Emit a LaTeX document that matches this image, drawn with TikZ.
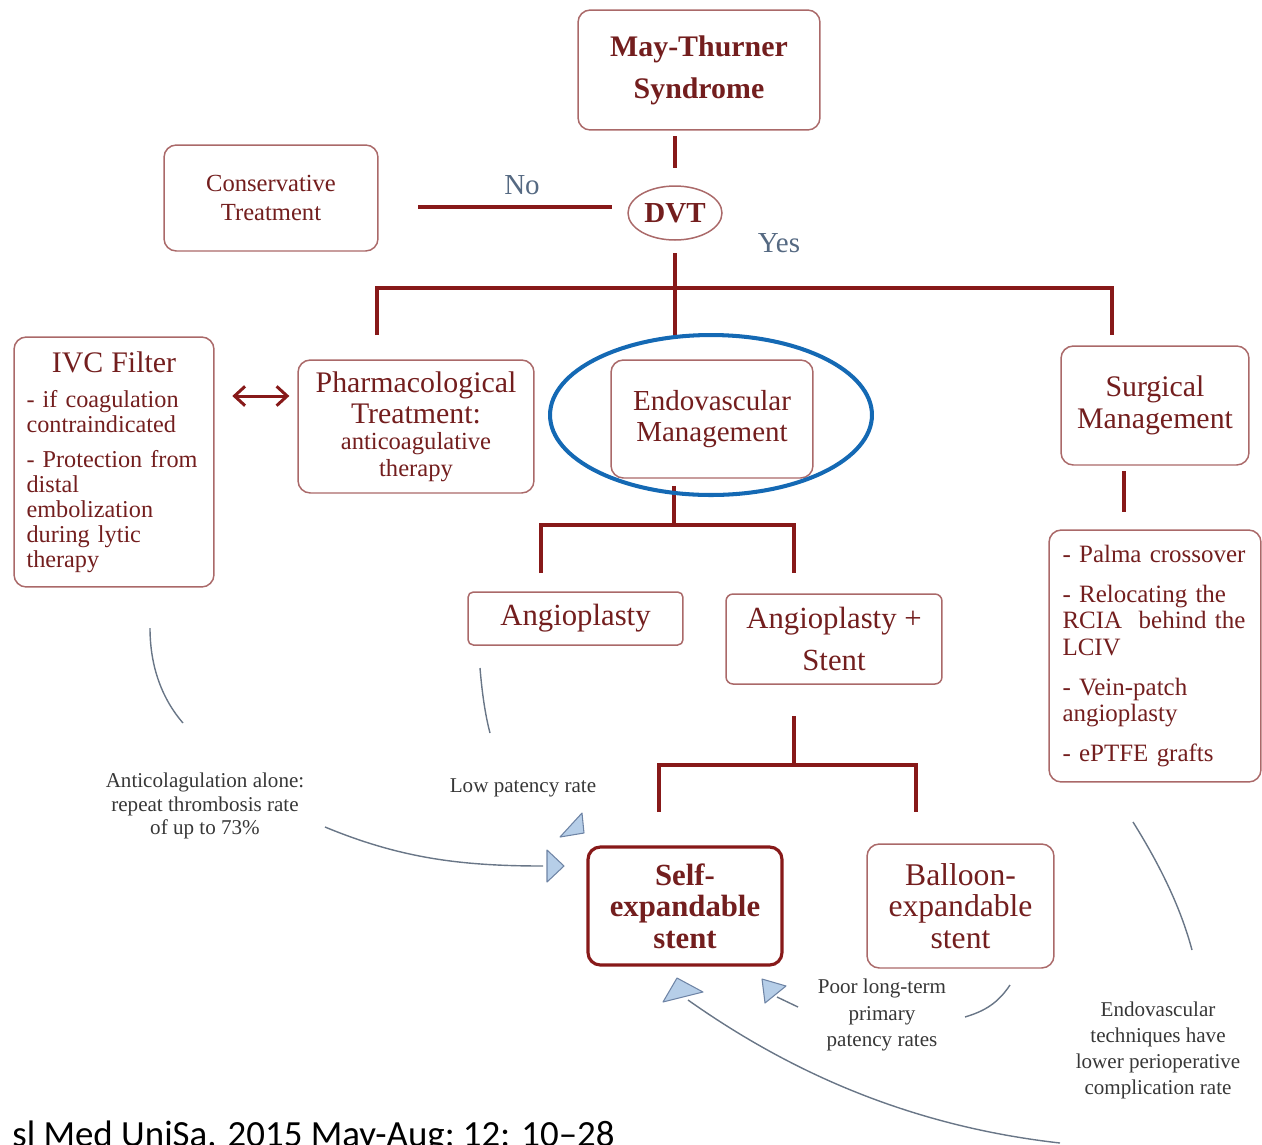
\documentclass[tikz,border=0pt]{standalone}
\usepackage{fontspec}
\setmainfont{Liberation Serif}
\newfontfamily\citefont{Carlito}
\usetikzlibrary{shapes.geometric,arrows.meta}

\definecolor{boxline}{RGB}{170,105,105}
\definecolor{linkred}{RGB}{135,25,25}
\definecolor{boxtext}{RGB}{115,30,30}
\definecolor{choice}{RGB}{85,105,130}
\definecolor{notetext}{RGB}{55,55,55}
\definecolor{noteline}{RGB}{105,118,135}
\definecolor{tipfill}{RGB}{182,206,232}
\definecolor{tipline}{RGB}{110,132,165}
\definecolor{ringblue}{RGB}{20,105,180}

\newcommand{\setfs}[2]{\fontsize{#1}{#2}\selectfont}

\begin{document}
\begin{tikzpicture}[x=0.02cm, y=-0.02cm,
  box/.style={draw=boxline, line width=0.85pt, rounded corners=7pt, text=boxtext, align=center, inner sep=2pt},
  link/.style={draw=linkred, line width=2.2pt},
  note/.style={text=notetext, align=center, font=\setfs{12}{13.6}},
  remark/.style={draw=noteline, line width=0.8pt},
  headtri/.style={fill=tipfill, draw=tipline, line width=0.6pt, line join=round}]
  \useasboundingbox (0,0) rectangle (1262,1144);

  % --- Syndrom og DVT ---
  \node[box, minimum width=4.84cm, minimum height=2.4cm, font=\bfseries\setfs{17}{24}] (mts) at (699,70) {May-Thurner\\Syndrome};
  \node[draw=boxline, line width=0.85pt, ellipse, minimum width=1.88cm, minimum height=1.08cm, inner sep=0pt, text=boxtext, font=\bfseries\setfs{16.5}{18}] (dvt) at (675,213) {DVT};
  \node[box, minimum width=4.28cm, minimum height=2.12cm, font=\setfs{14}{16.5}] (cons) at (271,198) {Conservative\\Treatment};
  \draw[link, shorten <=3pt, shorten >=10pt] (mts.south -| dvt.north) -- (dvt.north);
  \coordinate (nolevel) at (0,207);
  \draw[link, shorten <=22.5pt, shorten >=8.5pt] (cons.east |- nolevel) -- (dvt.west |- nolevel);
  \node[text=choice, font=\setfs{16.5}{18}] (no) at (522,185) {No};
  \node[text=choice, font=\setfs{16.5}{18}] (yes) at (779,243) {Yes};

  % --- behandlingsniveau ---
  \coordinate (hubA) at (674,288);
  \coordinate (dropL) at (377,335);
  \coordinate (dropR) at (1112,335);
  \draw[link, shorten <=7pt] (dvt.south) -- (dvt.south |- dropL);
  \draw[link] (dropL) |- (hubA) -| (dropR);

  \node[box, minimum width=4cm, minimum height=5cm, text width=3.5cm, align=left, font=\setfs{13.8}{14.1}] (ivc) at (114,462)
    {{\centering\setfs{17}{20}IVC Filter\par}\vspace{6pt}
     - if coagulation\\contraindicated\par\vspace{6pt}
     - Protection from\\distal\\embolization\\during lytic\\therapy};
  \node[box, minimum width=4.72cm, minimum height=2.66cm, text width=4.5cm] (pharm) at (416,426.5)
    {{\setfs{17}{17.6}Pharmacological\\Treatment:\par}{\setfs{14}{15}anticoagulative\\therapy\par}};
  \coordinate (arrowlevel) at (0,396);
  \draw[linkred, line width=1.7pt, {Straight Barb[length=6pt,width=11pt]}-{Straight Barb[length=6pt,width=11pt]}, shorten <=10pt, shorten >=4.5pt] (ivc.east |- arrowlevel) -- (pharm.west |- arrowlevel);

  \node[box, minimum width=4.04cm, minimum height=2.36cm, font=\setfs{16.5}{18}] (endo) at (712,419) {Endovascular\\Management};
  \node[box, minimum width=3.76cm, minimum height=2.38cm, font=\setfs{17}{18}] (surg) at (1155,405.5) {Surgical\\Management};
  \node[box, minimum width=4.24cm, minimum height=5.04cm, text width=3.7cm, align=left, font=\setfs{14.2}{15.3}] (slist) at (1155,656)
    {- Palma crossover\par\vspace{7pt}
     - Relocating the\\RCIA~ behind the\\LCIV\par\vspace{7pt}
     - Vein-patch\\angioplasty\par\vspace{7pt}
     - ePTFE grafts};
  \coordinate (surgx) at (1124,490);
  \draw[link, shorten <=3pt, shorten >=10pt] (surg.south -| surgx) -- (slist.north -| surgx);

  % --- endovaskulaer gren ---
  \coordinate (hubB) at (674,525);
  \coordinate (dropA) at (541,573);
  \coordinate (dropB) at (794,573);
  \draw[link, shorten <=4pt] (endo.south -| hubB) -- (hubB);
  \draw[link] (dropA) |- (hubB) -| (dropB);
  \draw[ringblue, line width=2.3pt] (711,415) ellipse [x radius=3.22cm, y radius=1.6cm];

  \node[box, rounded corners=3pt, minimum width=4.3cm, minimum height=1.06cm, font=\setfs{17.5}{19}] (angio) at (575.5,618.5) {Angioplasty};
  \node[box, rounded corners=4pt, minimum width=4.32cm, minimum height=1.8cm, font=\setfs{17.5}{24}] (angst) at (834,639) {Angioplasty +\\Stent};

  \coordinate (hubC) at (794,765);
  \coordinate (dropC) at (659,812);
  \coordinate (dropD) at (916,812);
  \draw[link, shorten <=18pt] (angst.south -| hubC) -- (hubC);
  \draw[link] (dropC) |- (hubC) -| (dropD);

  \node[box, draw=linkred, line width=1.8pt, minimum width=3.88cm, minimum height=2.36cm, font=\bfseries\setfs{17.5}{17.9}] (self) at (685,906) {Self-\\expandable\\stent};
  \node[box, minimum width=3.74cm, minimum height=2.48cm, font=\setfs{18}{17.9}] (ball) at (960.5,906) {Balloon-\\expandable\\stent};

  % --- kommentarer ---
  \node[note] (noteA) at (205,806) {Anticolagulation alone:\\repeat thrombosis rate\\of up to 73\%};
  \node[note] (noteB) at (523,788) {Low patency rate};
  \node[note, font=\setfs{12}{15.3}] (noteC) at (882,1015) {Poor long-term\\primary\\patency rates};
  \node[note, font=\setfs{12}{14.8}] (noteD) at (1158,1050) {Endovascular\\techniques have\\lower perioperative\\complication rate};

  \draw[remark] (150,628) .. controls (150,668) and (163,700) .. (183,723);
  \draw[remark] (480,668) .. controls (482,692) and (485,714) .. (490,733);
  \draw[remark] (325,827) .. controls (400,858) and (460,866) .. (543,866);
  \draw[remark] (1133,822) .. controls (1158,862) and (1180,905) .. (1192,950);
  \draw[remark] (1010,985) .. controls (998,1003) and (985,1011) .. (965,1017);
  \draw[remark] (798,1007) -- (777,997);
  \draw[remark] (1060,1143) .. controls (900,1125) and (780,1065) .. (688,1000);

  \filldraw[headtri] (582,813) -- (560,837) -- (584,833) -- cycle;
  \filldraw[headtri] (547,850) -- (547,882) -- (564,866) -- cycle;
  \filldraw[headtri] (677,978) -- (703,992) -- (663,1002) -- cycle;
  \filldraw[headtri] (762,979) -- (786,986) -- (765,1003) -- cycle;

  % --- kilde ---
  \node[anchor=base west, inner sep=0pt, font=\citefont\setfs{21}{22}] (cite) at (12,1146) {sl Med UniSa. 2015 May-Aug; 12: 10–28};
\end{tikzpicture}
\end{document}
